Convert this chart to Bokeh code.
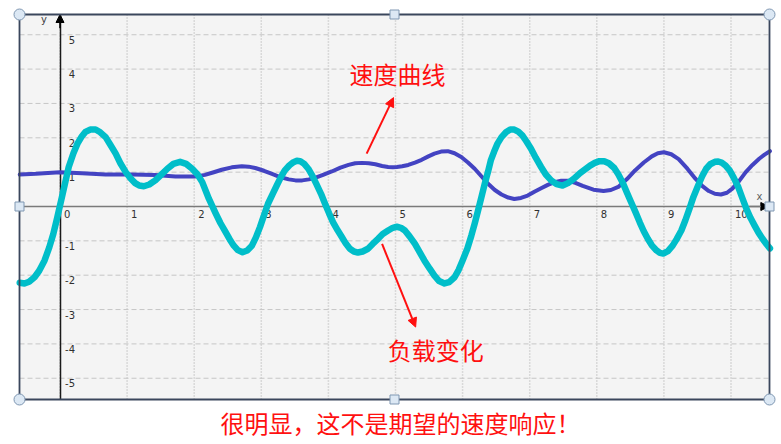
from bokeh.plotting import figure
from bokeh.models import Range1d, FixedTicker, Label, Arrow, NormalHead
from bokeh.core.properties import value
from bokeh.embed import file_html
from bokeh.resources import INLINE

# ---------------- data ----------------
speed_x = [-0.60, -0.36, 0.00, 0.33, 0.68, 1.07, 1.42, 1.72, 2.01, 2.16, 2.28, 2.41, 2.56,
           2.71, 2.81, 2.91, 3.04, 3.16, 3.29, 3.41, 3.51, 3.61, 3.71, 3.81, 3.93, 4.05,
           4.18, 4.30, 4.40, 4.50, 4.60, 4.70, 4.80, 4.89, 4.96, 5.02, 5.10, 5.19, 5.29,
           5.39, 5.49, 5.58, 5.68, 5.78, 5.88, 5.98, 6.08, 6.18, 6.28, 6.38, 6.48, 6.58,
           6.68, 6.77, 6.87, 6.97, 7.07, 7.17, 7.27, 7.37, 7.47, 7.57, 7.68, 7.79, 7.95,
           8.10, 8.21, 8.32, 8.45, 8.57, 8.70, 8.82, 8.91, 9.00, 9.11, 9.22, 9.35, 9.47,
           9.57, 9.67, 9.76, 9.85, 9.94, 10.02, 10.12, 10.22, 10.32, 10.42, 10.50, 10.58]
speed_y = [0.93, 0.95, 1.00, 0.97, 0.93, 0.93, 0.92, 0.87, 0.87, 0.92, 0.99, 1.07, 1.14,
           1.17, 1.16, 1.12, 1.04, 0.95, 0.85, 0.79, 0.76, 0.76, 0.79, 0.84, 0.93, 1.02,
           1.13, 1.21, 1.26, 1.27, 1.26, 1.23, 1.18, 1.15, 1.14, 1.15, 1.17, 1.21, 1.28,
           1.36, 1.46, 1.54, 1.60, 1.61, 1.55, 1.44, 1.28, 1.10, 0.88, 0.66, 0.48, 0.35,
           0.26, 0.22, 0.25, 0.32, 0.43, 0.53, 0.63, 0.71, 0.75, 0.75, 0.69, 0.60, 0.49,
           0.45, 0.48, 0.57, 0.80, 1.05, 1.28, 1.46, 1.55, 1.58, 1.52, 1.38, 1.10, 0.81,
           0.60, 0.45, 0.37, 0.35, 0.40, 0.52, 0.74, 1.00, 1.21, 1.39, 1.51, 1.61]

load_x = [-0.60, -0.53, -0.46, -0.38, -0.31, -0.23, -0.16, -0.10, -0.04, 0.04, 0.13, 0.20,
          0.26, 0.32, 0.38, 0.45, 0.53, 0.60, 0.68, 0.75, 0.83, 0.90, 0.98, 1.05, 1.12,
          1.18, 1.25, 1.33, 1.42, 1.51, 1.60, 1.69, 1.79, 1.88, 1.97, 2.05, 2.12, 2.22,
          2.32, 2.39, 2.46, 2.53, 2.59, 2.65, 2.72, 2.79, 2.86, 2.92, 2.98, 3.04, 3.10,
          3.17, 3.23, 3.29, 3.35, 3.42, 3.48, 3.53, 3.58, 3.64, 3.70, 3.76, 3.82, 3.89,
          3.95, 4.01, 4.07, 4.14, 4.20, 4.26, 4.32, 4.38, 4.44, 4.51, 4.59, 4.66, 4.74,
          4.81, 4.89, 4.96, 5.02, 5.08, 5.14, 5.21, 5.29, 5.36, 5.43, 5.51, 5.58, 5.65,
          5.73, 5.80, 5.88, 5.94, 6.00, 6.07, 6.13, 6.18, 6.23, 6.28, 6.33, 6.38, 6.42,
          6.47, 6.52, 6.58, 6.65, 6.71, 6.77, 6.83, 6.89, 6.95, 7.02, 7.09, 7.17, 7.24,
          7.32, 7.40, 7.49, 7.57, 7.66, 7.75, 7.84, 7.90, 7.97, 8.04, 8.11, 8.18, 8.26,
          8.32, 8.39, 8.45, 8.51, 8.58, 8.64, 8.70, 8.76, 8.82, 8.89, 8.94, 8.99, 9.06,
          9.13, 9.19, 9.26, 9.32, 9.38, 9.44, 9.51, 9.57, 9.63, 9.69, 9.76, 9.81, 9.86,
          9.92, 9.98, 10.04, 10.11, 10.17, 10.23, 10.29, 10.35, 10.41, 10.47, 10.53, 10.58]
load_y = [-2.22, -2.24, -2.19, -2.06, -1.87, -1.57, -1.19, -0.80, -0.31, 0.37, 1.15, 1.55,
          1.83, 2.03, 2.17, 2.24, 2.24, 2.16, 2.02, 1.80, 1.54, 1.26, 1.00, 0.82, 0.68,
          0.61, 0.59, 0.64, 0.76, 0.93, 1.10, 1.24, 1.30, 1.24, 1.10, 0.93, 0.71, 0.22,
          -0.20, -0.48, -0.72, -0.96, -1.14, -1.27, -1.33, -1.28, -1.14, -0.90, -0.60, -0.26, 0.08,
          0.37, 0.61, 0.85, 1.05, 1.20, 1.29, 1.33, 1.32, 1.24, 1.10, 0.90, 0.66, 0.37,
          0.08, -0.20, -0.46, -0.70, -0.89, -1.08, -1.23, -1.31, -1.34, -1.31, -1.23, -1.09, -0.94,
          -0.80, -0.70, -0.62, -0.59, -0.62, -0.70, -0.87, -1.09, -1.33, -1.57, -1.81, -2.01, -2.17,
          -2.24, -2.20, -2.06, -1.85, -1.57, -1.23, -0.85, -0.50, -0.12, 0.27, 0.66, 1.02, 1.34,
          1.60, 1.83, 2.02, 2.17, 2.24, 2.24, 2.18, 2.07, 1.90, 1.68, 1.42, 1.15, 0.93,
          0.76, 0.65, 0.61, 0.68, 0.81, 0.97, 1.10, 1.19, 1.27, 1.32, 1.32, 1.26, 1.12,
          0.94, 0.68, 0.40, 0.13, -0.18, -0.46, -0.72, -0.94, -1.13, -1.28, -1.35, -1.37, -1.30,
          -1.14, -0.95, -0.70, -0.40, -0.07, 0.28, 0.61, 0.88, 1.10, 1.23, 1.30, 1.31, 1.28,
          1.19, 1.05, 0.84, 0.56, 0.24, -0.07, -0.33, -0.55, -0.76, -0.94, -1.10, -1.22]

x_ticks = [0, 1, 2, 3, 4, 5, 6, 7, 8, 9, 10]
x_tick_labels = ["0", "1", "2", "3", "4", "5", "6", "7", "8", "9", "10"]
y_ticks = [-5, -4, -3, -2, -1, 1, 2, 3, 4, 5]
y_tick_labels = ["-5", "-4", "-3", "-2", "-1", "1", "2", "3", "4", "5"]

speed_label = "速度曲线"
load_label = "负载变化"
bottom_note = "很明显，这不是期望的速度响应！"

# ---------------- layout / styling ----------------
W, H = 778, 442                 # figure size in px
PX_X0, PX_UNIT_X = 59.5, 67.1   # pixel of x=0, pixels per x unit
PX_Y0, PX_UNIT_Y = 206.0, 34.35 # pixel of y=0, pixels per y unit
BOX_L, BOX_R, BOX_T, BOX_B = 19, 769, 14, 399   # chart box in px

def dx(px):
    return (px - PX_X0) / PX_UNIT_X

def dy(py):
    return (PX_Y0 - py) / PX_UNIT_Y

X0, X1 = dx(BOX_L), dx(BOX_R)
Y0, Y1 = dy(BOX_B), dy(BOX_T)

RED = "#FF1010"
CJK = "Noto Sans CJK SC"

p = figure(width=W, height=H, output_backend="svg", toolbar_location=None,
           x_range=Range1d(dx(0), dx(W)), y_range=Range1d(dy(H), dy(0)),
           y_axis_location="right",
           min_border_left=0, min_border_right=0, min_border_top=0, min_border_bottom=0)
p.background_fill_color = "white"
p.border_fill_color = "white"
p.outline_line_color = None
p.grid.visible = False

# chart box background
p.quad(left=[X0], right=[X1], bottom=[Y0], top=[Y1], fill_color="#F4F4F4", line_color=None)

# grid lines (inside the box only)
p.segment(x0=x_ticks, y0=[Y0] * len(x_ticks), x1=x_ticks, y1=[Y1] * len(x_ticks),
          line_color="#BDBDBD", line_dash="1 2", line_width=1.5)
p.segment(x0=[X0] * len(y_ticks), y0=y_ticks, x1=[X1] * len(y_ticks), y1=y_ticks,
          line_color="#C6C6C6", line_dash="5 3", line_width=1)

# axes crossing at the origin
p.xaxis.fixed_location = 0
p.yaxis.fixed_location = 0
p.xaxis.bounds = (X0, X1)
p.yaxis.bounds = (Y0, Y1)
p.xaxis.ticker = FixedTicker(ticks=x_ticks)
p.yaxis.ticker = FixedTicker(ticks=y_ticks)
for ax in (p.xaxis, p.yaxis):
    ax.major_tick_line_color = None
    ax.minor_tick_line_color = None
    ax.major_label_text_color = None
    ax.major_label_text_font_size = "0px"
p.xaxis.axis_line_color = "#7A7A7A"
p.xaxis.axis_line_width = 1.5
p.yaxis.axis_line_color = "#1A1A1A"
p.yaxis.axis_line_width = 1.5

# tick labels
p.text(x=x_ticks, y=[0] * len(x_ticks), text=x_tick_labels, x_offset=4, y_offset=3,
       text_align="left", text_baseline="top", text_font=value("DejaVu Sans"),
       text_font_size="10px", text_color="#303030")
p.text(x=[0] * len(y_ticks), y=y_ticks, text=y_tick_labels, x_offset=15, y_offset=1,
       text_align="right", text_baseline="top", text_font=value("DejaVu Sans"),
       text_font_size="10px", text_color="#303030")
p.text(x=[0], y=[Y1], text=["y"], x_offset=-16, y_offset=-1, text_align="center",
       text_baseline="top", text_font=value("DejaVu Sans"), text_font_size="10px",
       text_color="#404040")
p.text(x=[X1], y=[0], text=["x"], x_offset=-10, y_offset=-5, text_align="center",
       text_baseline="bottom", text_font=value("DejaVu Sans"), text_font_size="10px",
       text_color="#606060")

# axis arrow heads
p.add_layout(Arrow(end=NormalHead(size=8, fill_color="black", line_color="black"),
                   x_start=0, y_start=Y1 - 0.4, x_end=0, y_end=Y1, line_color="black",
                   line_width=1.5))
p.add_layout(Arrow(end=NormalHead(size=8, fill_color="black", line_color="black"),
                   x_start=X1 - 0.3, y_start=0, x_end=X1 - 0.01, y_end=0, line_color="#7A7A7A",
                   line_width=1.5))

# curves
p.line(speed_x, speed_y, line_color="#4343C2", line_width=4, line_join="round",
       line_cap="round", level="overlay")
p.line(load_x, load_y, line_color="#00BEC9", line_width=6.5, line_join="round",
       line_cap="round", level="overlay")

# chart box outline
p.quad(left=[X0], right=[X1], bottom=[Y0], top=[Y1], fill_color=None,
       line_color="#3A465C", line_width=1.8, level="overlay")

# annotations
speed_arrow_from, speed_arrow_to = (4.57, 1.54), (4.97, 3.17)
load_arrow_from, load_arrow_to = (4.80, -1.09), (5.30, -3.51)
p.add_layout(Arrow(end=NormalHead(size=9, fill_color=RED, line_color=RED),
                   x_start=speed_arrow_from[0], y_start=speed_arrow_from[1],
                   x_end=speed_arrow_to[0], y_end=speed_arrow_to[1],
                   line_color=RED, line_width=2))
p.add_layout(Arrow(end=NormalHead(size=9, fill_color=RED, line_color=RED),
                   x_start=load_arrow_from[0], y_start=load_arrow_from[1],
                   x_end=load_arrow_to[0], y_end=load_arrow_to[1],
                   line_color=RED, line_width=2))

p.add_layout(Label(x=5.03, y=3.87, text=speed_label, text_align="center",
                   text_baseline="middle", text_font=CJK, text_font_size="24px",
                   text_color=RED))
p.add_layout(Label(x=5.60, y=-4.16, text=load_label, text_align="center",
                   text_baseline="middle", text_font=CJK, text_font_size="24px",
                   text_color=RED))
p.add_layout(Label(x=dx(400), y=dy(422), text=bottom_note, text_align="center",
                   text_baseline="middle", text_font=CJK, text_font_size="24px",
                   text_color=RED))

# selection handles on the box (decoration)
xm = (X0 + X1) / 2
p.scatter(x=[X0, X1, X0, X1], y=[Y1, Y1, Y0, Y0], marker="circle", size=11,
          fill_color="#DCE8F4", line_color="#7F97B2", line_width=1, level="overlay")
p.scatter(x=[X0, xm, X1, xm], y=[0, Y1, 0, Y0], marker="square", size=9,
          fill_color="#DCE8F4", line_color="#7F97B2", line_width=1, level="overlay")

open("out.html", "w").write(file_html(p, INLINE))
